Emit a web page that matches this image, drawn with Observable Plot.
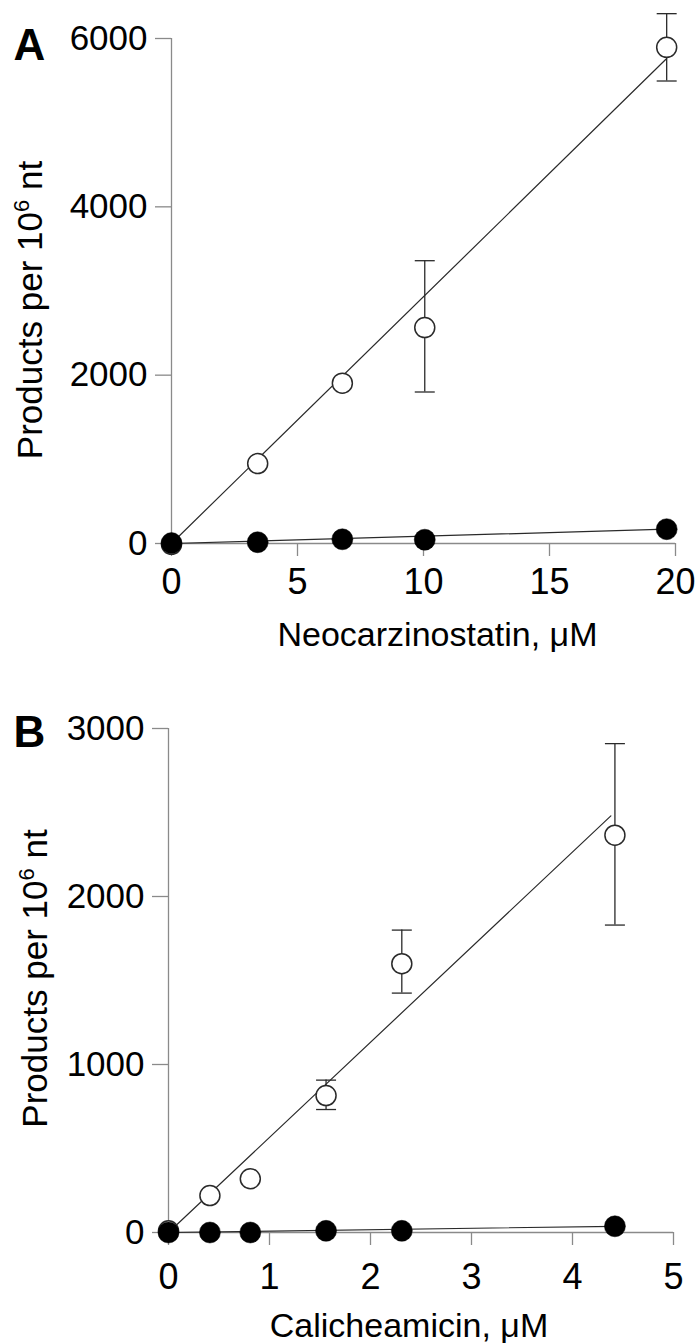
<!DOCTYPE html>
<html><head><meta charset="utf-8">
<script src="https://cdn.jsdelivr.net/npm/d3@7"></script>
<script src="https://cdn.jsdelivr.net/npm/@observablehq/plot@0.6"></script>
<style>
html,body{margin:0;padding:0;background:#fff;}
#chart{width:697px;height:1344px;overflow:hidden;}
svg{display:block;}
</style></head><body><div id="chart"></div>
<script>
// Panel A: Neocarzinostatin
const ncsConc      = [0, 3.42, 6.78, 10.05, 19.65];
const ncsOpen      = [-10, 950, 1905, 2565, 5895];
const ncsOpenLo    = [null, null, null, 1800, 5495];
const ncsOpenHi    = [null, null, null, 3360, 6295];
const ncsFilled    = [5, 15, 50, 45, 170];
const ncsFitX      = [0, 19.65];
const ncsFitOpenY  = [0, 5762];
const ncsFitFillY  = [0, 170];
const ncsXTicks    = [0, 5, 10, 15, 20];
const ncsYTicks    = [0, 2000, 4000, 6000];

// Panel B: Calicheamicin
const calConc      = [0, 0.41, 0.81, 1.56, 2.31, 4.42];
const calOpen      = [10, 220, 320, 815, 1600, 2365];
const calOpenLo    = [null, null, null, 732, 1425, 1830];
const calOpenHi    = [null, null, null, 907, 1800, 2910];
const calFilled    = [0, 0, 0, 10, 10, 37];
const calFitX      = [0, 4.38];
const calFitOpenY  = [0, 2480];
const calFitFillX  = [0, 4.42];
const calFitFillY  = [0, 37];
const calXTicks    = [0, 1, 2, 3, 4, 5];
const calYTicks    = [0, 1000, 2000, 3000];

const yLabel = "Products per 10\u2076 nt";
const FONT = "'Liberation Sans', Arial, Helvetica, sans-serif";
const AXIS = "#8a8a8a";
const INK = "#2a2a2a";

const cap = {draw(ctx, size) { const r = Math.sqrt(size / Math.PI); ctx.moveTo(-r, 0); ctx.lineTo(r, 0); }};

function panel(o) {
  const pts = o.conc.map((c, i) => ({x: c, open: o.open[i], lo: o.lo[i], hi: o.hi[i], filled: o.filled[i]}));
  const err = pts.filter(d => d.lo != null);
  const fitOpen = o.fitX.map((x, i) => ({x, y: o.fitOpenY[i]}));
  const fitFill = o.fitFillX.map((x, i) => ({x, y: o.fitFillY[i]}));
  const xMax = o.xTicks[o.xTicks.length - 1];
  const yMax = o.yTicks[o.yTicks.length - 1];
  const svg = Plot.plot({
    width: 697, height: o.height,
    marginTop: o.mt, marginBottom: o.mb, marginLeft: o.ml, marginRight: o.mr,
    style: {fontFamily: FONT, background: "white", overflow: "visible", color: "black"},
    x: {domain: [0, xMax]},
    y: {domain: [0, yMax]},
    marks: [
      Plot.ruleX([0], {y1: 0, y2: yMax, stroke: AXIS, strokeWidth: 1.3}),
      Plot.ruleY([0], {x1: 0, x2: xMax, stroke: AXIS, strokeWidth: 1.3}),
      Plot.axisY(o.yTicks, {anchor: "left", tickSize: 16, tickPadding: 8, fontSize: 35, tickFormat: d => String(d), stroke: AXIS, strokeWidth: 1.3, fill: "black", label: null}),
      Plot.axisX(o.xTicks, {anchor: "bottom", tickSize: 13, tickPadding: o.xPad, fontSize: 36, tickFormat: d => String(d), stroke: AXIS, strokeWidth: 1.3, fill: "black", label: null}),
      Plot.ruleX(err, {x: "x", y1: "lo", y2: "hi", stroke: INK, strokeWidth: 1.3}),
      Plot.dot(err, {x: "x", y: "hi", symbol: cap, r: 10, stroke: INK, fill: "none", strokeWidth: 1.3}),
      Plot.dot(err, {x: "x", y: "lo", symbol: cap, r: 10, stroke: INK, fill: "none", strokeWidth: 1.3}),
      Plot.line(fitOpen, {x: "x", y: "y", stroke: INK, strokeWidth: 1.2}),
      Plot.line(fitFill, {x: "x", y: "y", stroke: INK, strokeWidth: 1.2}),
      Plot.dot(pts, {x: "x", y: "open", r: 10, fill: "white", stroke: INK, strokeWidth: 1.5}),
      Plot.dot(pts, {x: "x", y: "filled", r: 10.5, fill: "black", stroke: "black", strokeWidth: 0.5}),
      Plot.text([o.letter], {frameAnchor: "top-left", text: d => d, dx: o.letterDx, dy: o.letterDy, textAnchor: "start", lineAnchor: "top", fontSize: 44, fontWeight: "bold", fill: "black"}),
      Plot.text([o.xTitle], {frameAnchor: "bottom", text: d => d, dx: o.titleDx, dy: o.titleDy, textAnchor: "middle", lineAnchor: "top", fontSize: 34, fill: "black"}),
      Plot.text([yLabel], {frameAnchor: "left", text: d => d, dx: o.ylDx, dy: o.ylDy, rotate: -90, textAnchor: "middle", lineAnchor: "middle", fontSize: 35, fill: "black"})
    ]
  });
  // superscript in the y label
  d3.select(svg).selectAll("text").filter(function() { return this.textContent === yLabel; }).each(function() {
    const t = d3.select(this);
    t.text(null);
    t.append("tspan").text("Products per 10");
    t.append("tspan").attr("font-size", 22).attr("dy", -13).text("6");
    t.append("tspan").attr("dy", 13).text(" nt");
  });
  return svg;
}

const root = document.getElementById("chart");
root.appendChild(panel({
  conc: ncsConc, open: ncsOpen, lo: ncsOpenLo, hi: ncsOpenHi, filled: ncsFilled,
  fitX: ncsFitX, fitOpenY: ncsFitOpenY, fitFillX: ncsFitX, fitFillY: ncsFitFillY,
  xTicks: ncsXTicks, yTicks: ncsYTicks,
  height: 680, mt: 38, mb: 137, ml: 171, mr: 22, xPad: 12,
  letter: "A", letterDx: -158, letterDy: -10,
  xTitle: "Neocarzinostatin, \u03bcM", titleDx: 14, titleDy: 78,
  ylDx: -141, ylDy: 19
}));
root.appendChild(panel({
  conc: calConc, open: calOpen, lo: calOpenLo, hi: calOpenHi, filled: calFilled,
  fitX: calFitX, fitOpenY: calFitOpenY, fitFillX: calFitFillX, fitFillY: calFitFillY,
  xTicks: calXTicks, yTicks: calYTicks,
  height: 664, mt: 48, mb: 112, ml: 168, mr: 24, xPad: 18,
  letter: "B", letterDx: -155, letterDy: -13,
  xTitle: "Calicheamicin, \u03bcM", titleDx: -12, titleDy: 80,
  ylDx: -133, ylDy: -2
}));
</script></body></html>
